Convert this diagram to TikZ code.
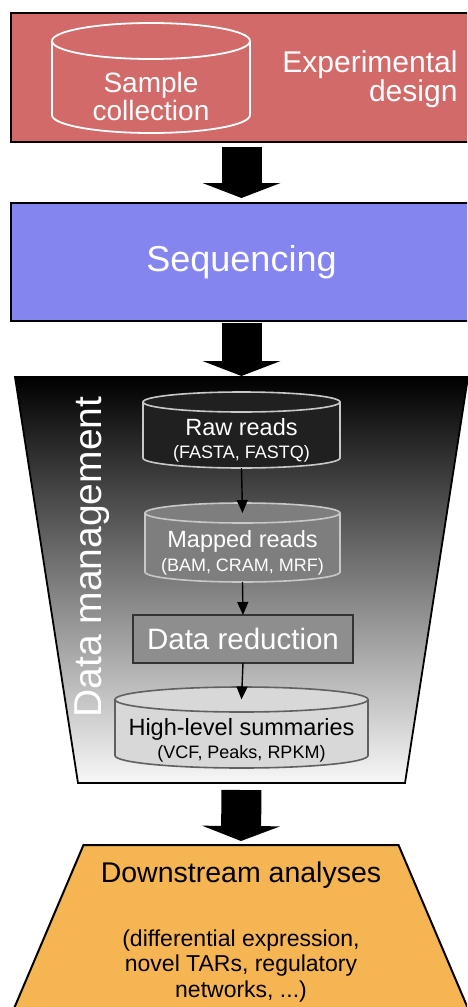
\documentclass[tikz,border=0pt]{standalone}
\usepackage{fontspec}
\setmainfont{Liberation Sans}
\usetikzlibrary{arrows.meta,backgrounds,positioning}
\definecolor{designred}{HTML}{D26A6A}
\definecolor{seqblue}{HTML}{8585F0}
\definecolor{downorange}{HTML}{F5B552}
\definecolor{rawfill}{HTML}{202020}
\definecolor{mapfill}{HTML}{7E7E7E}
\definecolor{redfill}{HTML}{8E8E8E}
\definecolor{sumfill}{HTML}{D8D8D8}
\definecolor{rimlight}{HTML}{C8C8C8}
\definecolor{rimdark}{HTML}{606060}
\tikzset{
  panel/.style={draw=black, line width=2.4pt, outer sep=0pt, inner sep=0pt, minimum width=461pt},
  store/.style={outer sep=0pt, inner sep=0pt, align=center},
  drumline/.style={line width=1.6pt},
  whitetext/.style={text=white, align=center},
  bigflow/.style={-{Triangle[length=15pt,width=78pt,line width=0pt]}, line width=40pt},
  flow/.style={-{Triangle[length=13pt,width=11pt]}, line width=1.4pt},
  fs/.style 2 args={font=\fontsize{#1}{#2}\selectfont}
}
% cylinder round a node: style, node, cap radius, half width
\newcommand{\drum}[4][]{%
  \path[drumline,#1] ([yshift=#3]#2.north) ellipse[x radius=#4, y radius=#3]
    ([yshift=#3]#2.north west) -- ([yshift=#3]#2.south west)
    arc[start angle=180, end angle=360, x radius=#4, y radius=#3]
    -- ([yshift=#3]#2.north east);
}
\begin{document}
\begin{tikzpicture}[x=1pt, y=-1pt]
  \useasboundingbox (0,0) rectangle (467,1007);
  \clip (0,0) rectangle (467,1007);

  % experimental design
  \node[panel, fill=designred, minimum height=129pt] (design) at (241.5,77.5) {};
  \node[store, whitetext, minimum width=198pt, minimum height=74pt, fs={28}{28}] (sample) at (151,96) {Sample\\collection};
  \drum[draw=white, line width=1.8pt]{sample}{18pt}{99pt}
  \node[whitetext, align=right, anchor=east, fs={30}{29}] (designtxt) at (461,79) {Experimental\\design};

  % sequencing
  \node[panel, fill=seqblue, minimum height=118pt, whitetext, fs={36}{36}] (seq) at (241.5,262) {Sequencing};

  % data management
  \node[store, minimum width=453pt, minimum height=406pt] (dm) at (241.5,580) {};
  \node[whitetext, rotate=90, fs={39}{39}] (dmtxt) at (92,557) {Data management};

  \node[store, whitetext, minimum width=197pt, minimum height=56pt, fs={18}{23}] (raw) at (241.5,440)
    {{\fontsize{23.5}{23}\selectfont Raw reads}\\(FASTA, FASTQ)};
  \node[store, whitetext, minimum width=195pt, minimum height=59pt, fs={18}{24}] (mapped) at (242.5,552.5)
    {{\fontsize{23.5}{24}\selectfont Mapped reads}\\(BAM, CRAM, MRF)};
  \node[draw=black!80, fill=redfill, line width=2pt, minimum width=220pt, minimum height=48pt, outer sep=0pt, whitetext, fs={29.5}{29}] (reduce) at (243,639) {Data reduction};
  \node[store, minimum width=253pt, minimum height=56pt, fs={18}{23}] (summ) at (241.5,740)
    {{\fontsize{23.5}{23}\selectfont High-level summaries}\\(VCF, Peaks, RPKM)};

  \begin{scope}[on background layer]
    \path[draw=black, line width=1.8pt, top color=black, bottom color=gray!6]
      (dm.north west) -- (dm.north east) -- ([xshift=-63pt]dm.south east) -- ([xshift=63pt]dm.south west) -- cycle;
    \drum[draw=rimlight, fill=rawfill]{raw}{10pt}{98.5pt}
    \drum[draw=rimlight, fill=mapfill]{mapped}{10pt}{97.5pt}
    \drum[draw=rimdark, fill=sumfill]{summ}{12.5pt}{126.5pt}
  \end{scope}

  \draw[flow] (raw.south) -- ([yshift=10pt]mapped.north);
  \draw[flow] (mapped.south) -- (reduce.north);
  \draw[flow] (reduce.south) -- ([yshift=12.5pt]summ.north);

  % downstream analyses
  \node[store, minimum width=485pt, minimum height=200pt] (down) at (241,945) {};
  \path[draw=black, line width=2pt, fill=downorange]
    ([xshift=85pt]down.north west) -- ([xshift=-85pt]down.north east) -- (down.south east) -- (down.south west) -- cycle;
  \node[fs={28.5}{30}] (downtxt) at (241,875) {Downstream analyses};
  \node[align=center, fs={23}{25.5}] (downsub) at (241,966) {(differential expression,\\novel TARs, regulatory\\networks, ...)};

  % main flow
  \draw[bigflow, shorten <=5pt, shorten >=5pt] (design.south) -- (seq.north);
  \draw[bigflow, shorten <=2pt, shorten >=1pt] (seq.south) -- (dm.north);
  \draw[bigflow, shorten <=7pt, shorten >=4pt] (dm.south) -- (down.north);
\end{tikzpicture}
\end{document}
